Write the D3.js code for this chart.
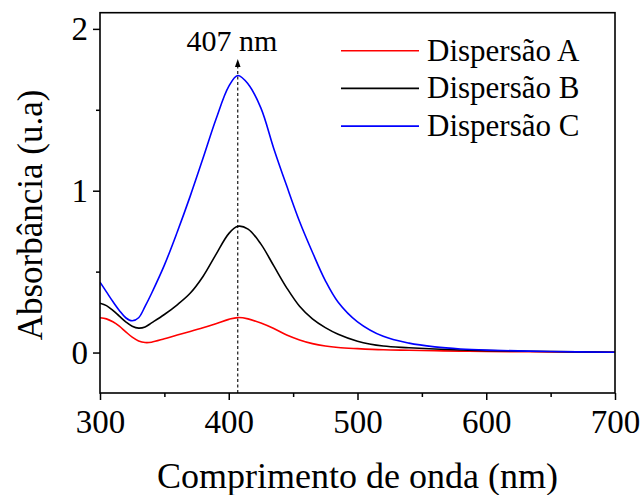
<!DOCTYPE html>
<html>
<head>
<meta charset="utf-8">
<script src="https://cdn.jsdelivr.net/npm/d3@7"></script>
<style>
  html, body { margin: 0; padding: 0; background: #fff; }
  svg { display: block; }
  text { font-family: "Liberation Serif", "Times New Roman", serif; fill: #000; }
</style>
</head>
<body>
<svg id="chart" width="643" height="495"></svg>
<script>
// UV-Vis absorbance spectra of three dispersions
const wavelength = [300,305,310,315,320,325,330,335,340,350,360,370,380,390,400,407,415,425,435,445,455,465,475,485,500,520,540,560,580,600,650,700];
const dispersaoA = [0.215,0.208,0.19,0.163,0.128,0.095,0.072,0.062,0.064,0.085,0.108,0.13,0.153,0.178,0.205,0.216,0.208,0.182,0.148,0.108,0.078,0.055,0.04,0.031,0.024,0.017,0.014,0.011,0.009,0.007,0.004,0.002];
const dispersaoB = [0.305,0.29,0.26,0.225,0.19,0.163,0.151,0.158,0.183,0.235,0.295,0.366,0.47,0.605,0.735,0.78,0.763,0.67,0.535,0.40,0.286,0.208,0.154,0.113,0.07,0.04,0.03,0.022,0.016,0.012,0.006,0.002];
const dispersaoC = [0.435,0.375,0.315,0.26,0.215,0.196,0.215,0.285,0.365,0.54,0.745,0.965,1.2,1.44,1.645,1.712,1.66,1.51,1.26,1.03,0.81,0.62,0.445,0.311,0.19,0.10,0.058,0.035,0.022,0.015,0.006,0.002];

const seriesNames = ["Dispersão A", "Dispersão B", "Dispersão C"];
const seriesColors = ["#ff0000", "#000000", "#0000ff"];
const seriesValues = [dispersaoA, dispersaoB, dispersaoC];

const xMajorTicks = [300, 400, 500, 600, 700];
const xMinorTicks = [350, 450, 550, 650];
const yMajorTicks = [0, 1, 2];
const yMinorTicks = [0.5, 1.5];
const peakWavelength = 407;

const serif = "'Liberation Serif', 'Times New Roman', serif";
const svg = d3.select("#chart");
const plotLeft = 100, plotRight = 615, plotTop = 12.7, plotBottom = 393;

const x = d3.scaleLinear().domain([300, 700]).range([plotLeft, plotRight]);
const y = d3.scaleLinear().domain([-0.25, 2.1]).range([plotBottom, plotTop]);

// clip for curves
svg.append("defs").append("clipPath").attr("id", "plotClip")
  .append("rect").attr("x", plotLeft).attr("y", plotTop)
  .attr("width", plotRight - plotLeft).attr("height", plotBottom - plotTop);

// peak marker: dashed line with arrow head
svg.append("line")
  .attr("x1", x(peakWavelength)).attr("x2", x(peakWavelength))
  .attr("y1", plotBottom).attr("y2", 65)
  .attr("stroke", "#000").attr("stroke-width", 1.1)
  .attr("stroke-dasharray", "3,2.5");
svg.append("path")
  .attr("d", `M${x(peakWavelength)},59 L${x(peakWavelength) - 2.8},67 L${x(peakWavelength) + 2.8},67 Z`)
  .attr("fill", "#000");

const line = d3.line()
  .x((d, i) => x(wavelength[i]))
  .y(d => y(d))
  .curve(d3.curveCatmullRom.alpha(0.5));

const curves = svg.append("g").attr("clip-path", "url(#plotClip)");
seriesValues.forEach((vals, k) => {
  curves.append("path")
    .datum(vals)
    .attr("d", line)
    .attr("fill", "none")
    .attr("stroke", seriesColors[k])
    .attr("stroke-width", 1.6);
});

// frame
svg.append("rect")
  .attr("x", plotLeft).attr("y", plotTop)
  .attr("width", plotRight - plotLeft).attr("height", plotBottom - plotTop)
  .attr("fill", "none").attr("stroke", "#000").attr("stroke-width", 1.6);

// bottom axis
const xAxis = svg.append("g").attr("transform", `translate(0,${plotBottom})`)
  .call(d3.axisBottom(x).tickValues(xMajorTicks).tickSize(7).tickPadding(10).tickFormat(d3.format("d")));
xAxis.select(".domain").remove();
xAxis.attr("font-family", serif);
xAxis.selectAll(".tick line").attr("stroke-width", 1.5);
xAxis.selectAll(".tick text").style("font-size", "33px").style("font-family", serif);
const xMinor = svg.append("g").attr("transform", `translate(0,${plotBottom})`)
  .call(d3.axisBottom(x).tickValues(xMinorTicks).tickSize(4).tickFormat(""));
xMinor.select(".domain").remove();
xMinor.selectAll(".tick line").attr("stroke-width", 1.5);

// left axis
const yAxis = svg.append("g").attr("transform", `translate(${plotLeft},0)`)
  .call(d3.axisLeft(y).tickValues(yMajorTicks).tickSize(7).tickPadding(5).tickFormat(d3.format("d")));
yAxis.select(".domain").remove();
yAxis.attr("font-family", serif);
yAxis.selectAll(".tick line").attr("stroke-width", 1.5);
yAxis.selectAll(".tick text").style("font-size", "33px").style("font-family", serif);
const yMinor = svg.append("g").attr("transform", `translate(${plotLeft},0)`)
  .call(d3.axisLeft(y).tickValues(yMinorTicks).tickSize(4).tickFormat(""));
yMinor.select(".domain").remove();
yMinor.selectAll(".tick line").attr("stroke-width", 1.5);

// axis titles
svg.append("text")
  .attr("x", (plotLeft + plotRight) / 2).attr("y", 488)
  .attr("text-anchor", "middle")
  .style("font-family", serif)
  .style("font-size", "36px")
  .text("Comprimento de onda (nm)");
svg.append("text")
  .attr("transform", "translate(42,215) rotate(-90)")
  .attr("text-anchor", "middle")
  .style("font-family", serif)
  .style("font-size", "35px")
  .text("Absorbância (u.a)");

// peak label
svg.append("text")
  .attr("x", 232).attr("y", 51)
  .attr("text-anchor", "middle")
  .style("font-family", serif)
  .style("font-size", "30px")
  .text(peakWavelength + " nm");

// legend
const legend = svg.append("g");
seriesNames.forEach((name, k) => {
  const ly = 50.7 + k * 37.7;
  legend.append("line")
    .attr("x1", 341).attr("x2", 419).attr("y1", ly).attr("y2", ly)
    .attr("stroke", seriesColors[k]).attr("stroke-width", 1.6);
  legend.append("text")
    .attr("x", 427).attr("y", ly + 10)
    .style("font-family", serif)
    .style("font-size", "31px")
    .text(name);
});
</script>
</body>
</html>
